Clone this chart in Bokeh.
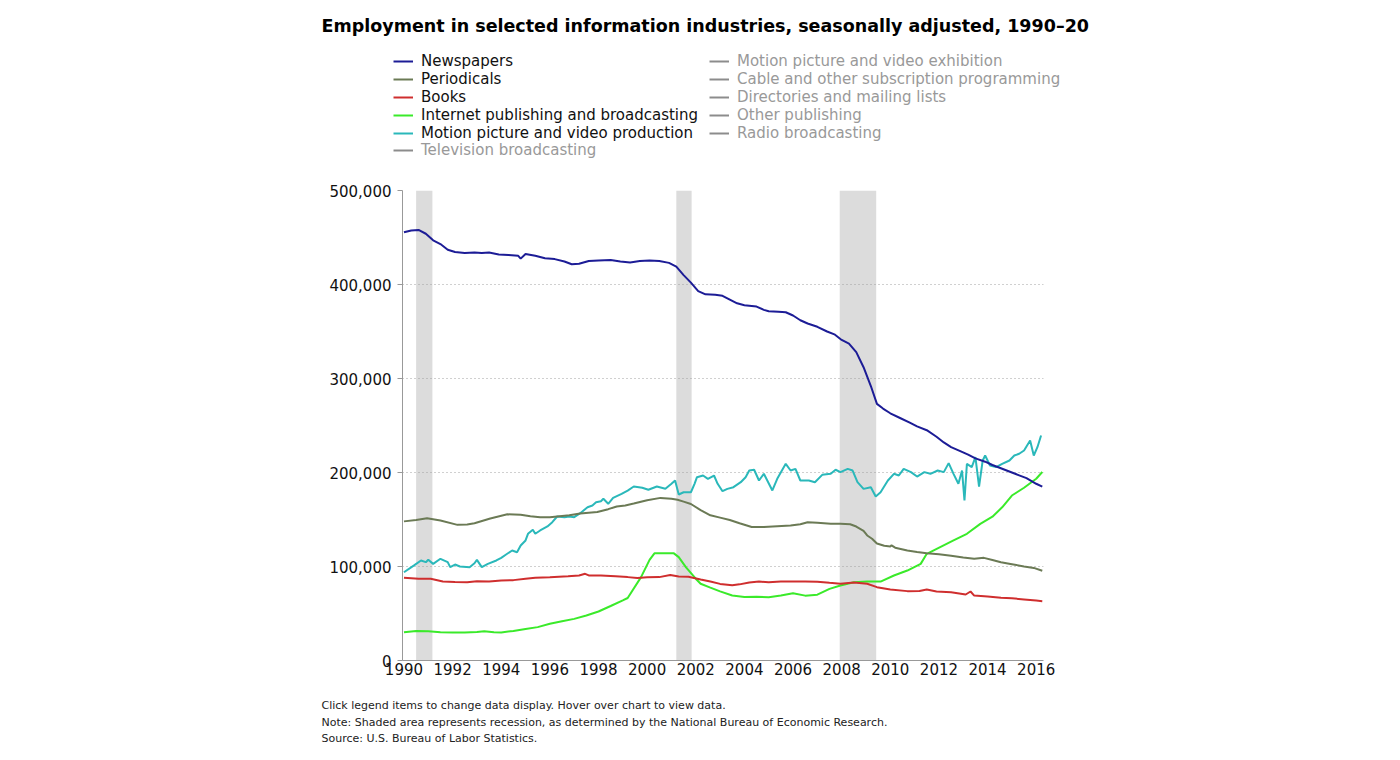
from bokeh.plotting import figure
from bokeh.models import (Range1d, FixedTicker, NumeralTickFormatter, BoxAnnotation,
                          Label, Legend, LegendItem, ColumnDataSource)
from bokeh.embed import file_html
from bokeh.resources import INLINE

# ---------------- data (thousands of jobs, decimal years) ----------------
news_x = [1990.0, 1990.3, 1990.6, 1990.9, 1991.2, 1991.5, 1991.8, 1992.1, 1992.5, 1992.9,
          1993.2, 1993.5, 1993.9, 1994.3, 1994.7, 1994.8, 1995.0, 1995.4, 1995.8, 1996.2,
          1996.6, 1996.9, 1997.2, 1997.6, 1998.0, 1998.5, 1998.9, 1999.3, 1999.7, 2000.1,
          2000.5, 2000.9, 2001.2, 2001.5, 2001.8, 2002.1, 2002.4, 2002.8, 2003.1, 2003.4,
          2003.7, 2004.0, 2004.5, 2004.8, 2005.0, 2005.4, 2005.7, 2006.0, 2006.3, 2006.6,
          2007.0, 2007.4, 2007.7, 2008.0, 2008.3, 2008.6, 2008.9, 2009.2, 2009.45, 2009.7,
          2010.0, 2010.4, 2010.8, 2011.1, 2011.5, 2011.9, 2012.2, 2012.5, 2012.9, 2013.2,
          2013.5, 2013.9, 2014.2, 2014.6, 2015.0, 2015.3, 2015.6, 2016.0, 2016.25]
news_y = [455.5, 457.5, 458.0, 454.0, 447.0, 443.0, 437.0, 434.5, 433.5, 434.0,
          433.5, 434.0, 432.0, 431.5, 430.5, 427.5, 432.5, 430.5, 428.0, 427.0,
          424.5, 421.5, 422.0, 425.0, 425.5, 426.0, 424.5, 423.5, 425.0, 425.5,
          425.0, 423.0, 419.0, 410.0, 402.0, 393.0, 389.5, 389.0, 388.0, 384.0,
          380.0, 378.0, 376.5, 373.0, 371.5, 371.0, 370.5, 367.0, 362.0, 358.5,
          355.0, 350.0, 347.0, 341.0, 337.0, 328.0, 312.0, 292.0, 273.0, 268.0,
          263.0, 258.0, 253.0, 249.0, 245.0, 238.0, 232.0, 227.0, 222.5, 219.0,
          215.0, 211.5, 208.0, 204.0, 200.0, 197.0, 194.0, 188.0, 185.0]

peri_x = [1990.0, 1990.5, 1990.95, 1991.5, 1992.2, 1992.6, 1992.9, 1993.55, 1994.25, 1994.8,
          1995.2, 1995.6, 1996.0, 1996.4, 1996.8, 1997.25, 1997.95, 1998.4, 1998.75, 1999.1,
          1999.45, 2000.0, 2000.55, 2001.0, 2001.25, 2001.5, 2001.8, 2002.2, 2002.6, 2003.0,
          2003.4, 2003.8, 2004.3, 2004.8, 2005.35, 2005.9, 2006.3, 2006.6, 2007.0, 2007.55,
          2007.95, 2008.35, 2008.6, 2008.9, 2009.05, 2009.25, 2009.45, 2009.75, 2010.0, 2010.05,
          2010.2, 2010.7, 2011.1, 2011.5, 2012.0, 2012.5, 2013.0, 2013.45, 2013.85, 2014.2,
          2014.55, 2015.0, 2015.5, 2015.9, 2016.25]
peri_y = [148.0, 149.5, 151.4, 149.0, 144.3, 144.8, 146.0, 151.0, 155.5, 155.0,
          153.5, 152.5, 152.5, 153.5, 154.5, 156.5, 158.0, 161.0, 163.8, 165.0,
          167.0, 170.5, 173.0, 172.0, 171.0, 169.0, 166.5, 160.0, 154.5, 152.0,
          149.5, 146.0, 142.0, 142.0, 142.8, 143.6, 145.0, 147.1, 146.5, 145.5,
          145.4, 145.0, 142.5, 138.0, 133.0, 129.5, 124.5, 122.0, 121.3, 122.5,
          120.0, 117.0, 115.5, 114.2, 113.0, 111.5, 109.5, 108.2, 109.2, 107.0,
          104.6, 102.5, 100.0, 98.5, 95.5]

book_x = [1990.0, 1990.6, 1991.1, 1991.6, 1992.1, 1992.6, 1993.0, 1993.5, 1994.0, 1994.5,
          1995.0, 1995.4, 1996.0, 1996.75, 1997.2, 1997.45, 1997.6, 1998.1, 1998.7, 1999.2,
          1999.6, 2000.0, 2000.5, 2000.95, 2001.3, 2001.7, 2002.2, 2002.6, 2003.0, 2003.5,
          2003.8, 2004.2, 2004.6, 2005.0, 2005.5, 2006.0, 2006.5, 2007.0, 2007.5, 2007.95,
          2008.5, 2009.05, 2009.45, 2010.0, 2010.7, 2011.2, 2011.5, 2011.9, 2012.5, 2013.1,
          2013.3, 2013.45, 2014.0, 2014.55, 2015.0, 2015.5, 2016.0, 2016.25]
book_y = [88.0, 87.0, 86.9, 84.0, 83.5, 83.3, 84.3, 84.0, 85.1, 85.5,
          87.0, 88.0, 88.5, 89.7, 90.5, 92.2, 90.5, 90.4, 89.5, 88.7,
          87.8, 88.5, 88.7, 91.0, 89.4, 89.2, 86.2, 84.0, 81.5, 80.0,
          81.0, 83.0, 84.0, 83.3, 84.0, 84.0, 84.0, 83.8, 82.6, 81.6,
          83.0, 81.6, 78.0, 75.5, 73.8, 74.0, 75.5, 73.5, 72.7, 70.2,
          73.4, 69.1, 68.1, 66.7, 66.2, 65.0, 63.8, 63.1]

inet_x = [1990.0, 1990.5, 1991.0, 1991.5, 1992.0, 1992.5, 1993.0, 1993.3, 1993.7, 1994.0,
          1994.5, 1995.0, 1995.5, 1996.0, 1996.5, 1997.0, 1997.5, 1998.0, 1998.5, 1999.0,
          1999.2, 1999.75, 2000.1, 2000.3, 2001.1, 2001.3, 2001.6, 2002.0, 2002.2, 2002.6,
          2003.0, 2003.5, 2004.0, 2004.5, 2005.0, 2005.5, 2006.0, 2006.5, 2007.0, 2007.5,
          2007.95, 2008.5, 2009.05, 2009.6, 2010.15, 2010.7, 2011.25, 2011.5, 2012.05, 2012.6,
          2013.15, 2013.7, 2014.2, 2014.6, 2015.0, 2015.5, 2016.0, 2016.25]
inet_y = [30.0, 31.5, 31.0, 30.0, 29.8, 29.8, 30.3, 31.0, 30.0, 29.8,
          31.5, 33.5, 35.5, 39.0, 41.8, 44.3, 47.9, 52.1, 58.0, 64.0,
          66.5, 88.7, 107.0, 114.0, 114.0, 110.0, 99.0, 87.0, 81.6, 77.5,
          73.5, 69.1, 67.6, 67.8, 67.4, 69.1, 71.6, 69.0, 70.0, 76.2,
          79.8, 83.3, 84.0, 84.0, 90.4, 95.7, 102.8, 113.5, 120.6, 127.7,
          134.8, 145.4, 153.0, 163.0, 175.5, 183.8, 193.4, 200.5]

mpvp_x = [1990.0, 1990.4, 1990.7, 1990.9, 1991.0, 1991.2, 1991.5, 1991.8, 1991.9, 1992.1,
          1992.3, 1992.7, 1992.9, 1993.0, 1993.2, 1993.45, 1993.8, 1994.0, 1994.2, 1994.45,
          1994.65, 1994.8, 1995.0, 1995.1, 1995.3, 1995.4, 1995.6, 1995.9, 1996.1, 1996.3,
          1996.6, 1996.8, 1997.0, 1997.25, 1997.55, 1997.75, 1997.9, 1998.1, 1998.2, 1998.4,
          1998.6, 1998.95, 1999.2, 1999.45, 1999.8, 2000.05, 2000.4, 2000.75, 2001.0, 2001.15,
          2001.3, 2001.5, 2001.8, 2001.95, 2002.05, 2002.3, 2002.5, 2002.75, 2002.9, 2003.1,
          2003.3, 2003.55, 2003.85, 2004.05, 2004.2, 2004.4, 2004.6, 2004.8, 2005.15, 2005.35,
          2005.7, 2005.9, 2006.1, 2006.3, 2006.65, 2006.9, 2007.2, 2007.55, 2007.75, 2007.95,
          2008.25, 2008.45, 2008.65, 2008.9, 2009.2, 2009.4, 2009.6, 2009.9, 2010.15, 2010.35,
          2010.55, 2010.85, 2011.1, 2011.4, 2011.65, 2011.95, 2012.2, 2012.4, 2012.6, 2012.8,
          2012.95, 2013.05, 2013.15, 2013.35, 2013.5, 2013.65, 2013.8, 2013.9, 2014.1, 2014.35,
          2014.6, 2014.9, 2015.1, 2015.3, 2015.5, 2015.75, 2015.9, 2016.05, 2016.2]
mpvp_y = [93.9, 101.0, 106.4, 104.6, 107.1, 102.8, 108.2, 104.6, 99.3, 102.1,
          100.0, 99.3, 103.5, 107.1, 99.3, 102.8, 106.4, 109.2, 112.8, 117.0,
          115.2, 122.3, 127.7, 134.8, 139.0, 134.8, 138.3, 142.6, 147.1, 153.2,
          152.5, 153.2, 152.5, 156.7, 163.1, 164.9, 168.4, 169.5, 172.0, 166.7,
          173.0, 177.3, 180.8, 185.1, 183.7, 181.6, 185.1, 182.7, 188.0, 191.5,
          176.6, 179.0, 179.0, 188.0, 195.0, 196.8, 193.3, 196.8, 188.0, 180.1,
          182.6, 184.4, 189.7, 195.0, 202.1, 202.9, 191.5, 198.6, 180.9, 193.3,
          209.2, 202.1, 203.9, 191.5, 191.5, 189.7, 197.5, 198.6, 202.9, 200.4,
          203.9, 202.1, 189.7, 182.6, 184.4, 174.5, 179.0, 191.5, 198.6, 196.8,
          203.9, 200.4, 195.7, 200.4, 198.6, 202.1, 200.4, 210.0, 198.6, 188.0,
          202.1, 170.2, 209.2, 205.7, 216.3, 185.1, 212.8, 218.1, 207.4, 205.7,
          209.2, 212.8, 218.1, 219.9, 223.4, 234.0, 218.1, 226.9, 239.4]

shown_names = ["Newspapers", "Periodicals", "Books", "Internet publishing and broadcasting",
               "Motion picture and video production"]
shown_colors = ["#1c1c96", "#6b7a55", "#cf2e2e", "#3aea2a", "#2ab8ba"]
hidden_col1 = ["Television broadcasting"]
hidden_col2 = ["Motion picture and video exhibition", "Cable and other subscription programming",
               "Directories and mailing lists", "Other publishing", "Radio broadcasting"]
hidden_color = "#8c8c8c"

recessions = [(1990.5, 1991.17), (2001.2, 2001.83), (2007.92, 2009.42)]

x_ticks = list(range(1990, 2017, 2))
y_ticks = [0, 100000, 200000, 300000, 400000, 500000]

title_text = "Employment in selected information industries, seasonally adjusted, 1990\u201320"
notes = ["Click legend items to change data display. Hover over chart to view data.",
         "Note: Shaded area represents recession, as determined by the National Bureau of Economic Research.",
         "Source: U.S. Bureau of Labor Statistics."]

W = 1384
NAN = float("nan")


def blank(height):
    f = figure(width=W, height=height, output_backend="svg", toolbar_location=None,
               x_range=Range1d(0, W), y_range=Range1d(height, 0),
               x_axis_location=None, y_axis_location=None,
               min_border=0, min_border_left=0, min_border_right=0,
               min_border_top=0, min_border_bottom=0)
    f.grid.visible = False
    f.outline_line_color = None
    f.background_fill_color = "white"
    f.border_fill_color = "white"
    return f


# ---------------- header: title + legend ----------------
HH = 170
head = blank(HH)
head.add_layout(Label(x=321, y=25, text=title_text, text_font="DejaVu Sans",
                      text_font_style="bold", text_font_size="17.5px",
                      text_color="#000000", text_baseline="middle"))


def make_legend(fig, names, colors, loc, text_color):
    rends = [fig.line(x=[NAN], y=[NAN], line_color=c, line_width=2) for c in colors]
    lg = Legend(items=[LegendItem(label=n, renderers=[r]) for n, r in zip(names, rends)],
                location=loc, orientation="vertical")
    lg.label_text_font = "DejaVu Sans"
    lg.label_text_font_size = "15px"
    lg.label_text_color = text_color
    lg.glyph_width = 20
    lg.glyph_height = 18
    lg.label_height = 18
    lg.label_standoff = 8
    lg.spacing = 0
    lg.padding = 0
    lg.margin = 0
    lg.border_line_color = None
    lg.background_fill_alpha = 0
    fig.add_layout(lg)
    return lg


make_legend(head, shown_names, shown_colors, (393, HH - 52 - 90), "#111111")
make_legend(head, hidden_col1, [hidden_color], (393, HH - 141 - 18), "#999999")
make_legend(head, hidden_col2, [hidden_color] * 5, (709, HH - 52 - 90), "#999999")

# ---------------- main chart ----------------
MH = 520  # page y 170 .. 690; frame 190 .. 660
p = figure(width=W, height=MH, output_backend="svg", toolbar_location=None,
           x_range=Range1d(1989.94, 2016.30), y_range=Range1d(0, 500000),
           min_border_left=402, min_border_right=W - 1043, min_border_top=20, min_border_bottom=30)
p.outline_line_color = None
p.background_fill_color = "white"
p.border_fill_color = "white"

for a, b in recessions:
    p.add_layout(BoxAnnotation(left=a, right=b, fill_color="#dcdcdc", fill_alpha=1.0,
                               line_color=None, level="image"))

p.xgrid.visible = False
p.ygrid.ticker = FixedTicker(ticks=y_ticks)
p.ygrid.grid_line_color = "#a0a0a0"
p.ygrid.grid_line_dash = "1 3"
p.ygrid.grid_line_width = 1

p.xaxis.ticker = FixedTicker(ticks=x_ticks)
p.yaxis.ticker = FixedTicker(ticks=y_ticks)
p.yaxis.formatter = NumeralTickFormatter(format="0,0")
for ax in (p.xaxis, p.yaxis):
    ax.axis_line_color = "#999999"
    ax.major_tick_line_color = "#999999"
    ax.minor_tick_line_color = None
    ax.major_label_text_font = "DejaVu Sans"
    ax.major_label_text_font_size = "15px"
    ax.major_label_text_color = "#111111"
p.xaxis.major_tick_out = 0
p.xaxis.major_tick_in = 0
p.xaxis.major_label_standoff = 2
p.yaxis.major_tick_out = 5
p.yaxis.major_tick_in = 0
p.yaxis.major_label_standoff = 6

series = [(mpvp_x, mpvp_y), (inet_x, inet_y), (book_x, book_y), (peri_x, peri_y), (news_x, news_y)]
colors_draw = [shown_colors[4], shown_colors[3], shown_colors[2], shown_colors[1], shown_colors[0]]
for (xs, ys), col in zip(series, colors_draw):
    src = ColumnDataSource(dict(x=xs, y=[v * 1000 for v in ys]))
    p.line("x", "y", source=src, line_color=col, line_width=2)

# ---------------- footer: notes ----------------
FH = 60  # page y 690 .. 750
foot = blank(FH)
for i, t in enumerate(notes):
    foot.add_layout(Label(x=321, y=15 + 16.5 * i, text=t, text_font="DejaVu Sans",
                          text_font_size="11px", text_color="#222222",
                          text_baseline="middle"))

open("out.html", "w").write(file_html([head, p, foot], INLINE))
